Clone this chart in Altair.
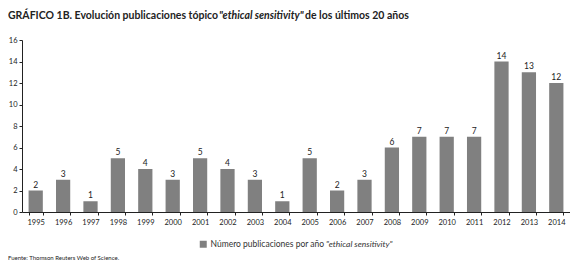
import altair as alt
import pandas as pd

years = ["1995", "1996", "1997", "1998", "1999", "2000", "2001", "2002", "2003", "2004",
         "2005", "2006", "2007", "2008", "2009", "2010", "2011", "2012", "2013", "2014"]
values = [2, 3, 1, 5, 4, 3, 5, 4, 3, 1, 5, 2, 3, 6, 7, 7, 7, 14, 13, 12]
y_ticks = [0, 2, 4, 6, 8, 10, 12, 14, 16]
series_label = "Número publicaciones por año"
series_italic = "\"ethical sensitivity\""
title_parts = ["GRÁFICO 1B. Evolución publicaciones tópico", "\"ethical sensitivity\"", "de los últimos 20 años"]
source_text = "Fuente: Thomson Reuters Web of Science."

FONT = "Lato"
GRAY = "#808080"
INK = "#222222"

df = pd.DataFrame({"year": years, "value": values, "serie": [series_label] * len(years)})

x_enc = alt.X("year:N", sort=years,
              scale=alt.Scale(paddingInner=0.48, paddingOuter=0.24),
              axis=alt.Axis(title=None, labelAngle=0, tickBand="extent", labelFont=FONT,
                            labelFontSize=7.5, labelColor=INK, domainColor=INK,
                            tickColor=INK, tickSize=3, labelPadding=3, domainWidth=1,
                            labelOverlap=False))
y_enc = alt.Y("value:Q", scale=alt.Scale(domain=[0, 16]),
              axis=alt.Axis(title=None, values=y_ticks, grid=False, labelFont=FONT,
                            labelFontSize=7.5, labelColor=INK, domainColor=INK,
                            tickColor=INK, tickSize=3, labelPadding=2, labelOverlap=False))

bars = alt.Chart(df).mark_bar(color=GRAY).encode(
    x=x_enc, y=y_enc,
    color=alt.Color("serie:N", scale=alt.Scale(range=[GRAY]),
                    legend=alt.Legend(title=None, orient="none", legendX=177, legendY=200,
                                      symbolType="square", symbolSize=49, symbolStrokeWidth=0,
                                      labelFont=FONT, labelFontSize=8.5, labelColor="#333",
                                      padding=0, labelOffset=3)),
)

labels = alt.Chart(df).mark_text(dy=-6, font=FONT, fontSize=8.5, color=INK).encode(
    x=x_enc, y=y_enc, text="value:Q")

meta = pd.DataFrame({"t": [0]})

def txt(text, x, y, size, style="normal", weight="normal", color=INK):
    return alt.Chart(meta).mark_text(text=text, align="left", baseline="alphabetic",
                                     font=FONT, fontSize=size, fontStyle=style,
                                     fontWeight=weight, color=color).encode(
        x=alt.value(x), y=alt.value(y))

t1 = txt(title_parts[0], -14, -21, 10.5, weight="bold")
t2 = txt(title_parts[1], 197, -21, 10.5, style="italic", weight="bold")
t3 = txt(title_parts[2], 283, -21, 10.5, weight="bold")
leg_it = txt(series_italic, 304, 207, 8.5, style="italic", color="#333")
src = txt(source_text, -14, 220, 6)

chart = alt.layer(bars, labels, t1, t2, t3, leg_it, src).properties(
    width=548, height=172,
    padding={"left": 14, "top": 32, "right": 0, "bottom": 50},
    autosize=alt.AutoSizeParams(type="none"),
).configure_view(stroke=None)

chart.save("out.html", embed_options={"renderer": "svg", "actions": False})
